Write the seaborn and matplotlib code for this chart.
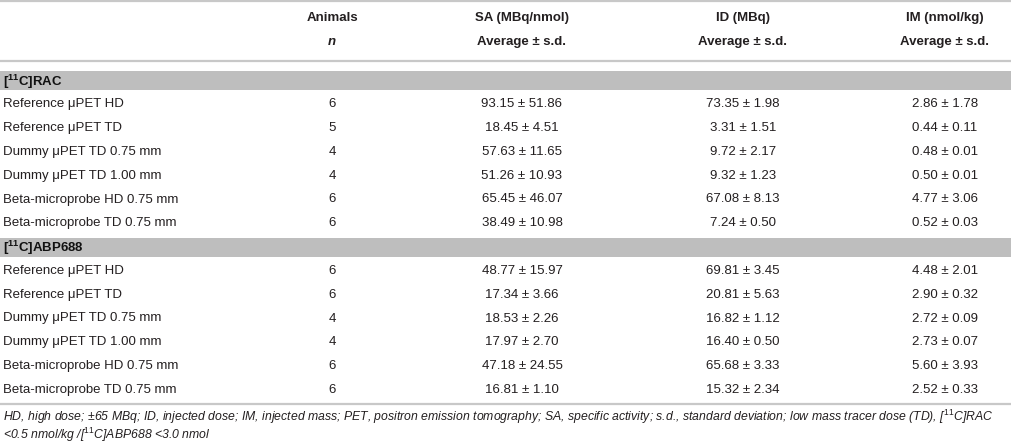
import pandas as pd
import matplotlib.pyplot as plt
import seaborn as sns

# Table content
groups = [r'[$^{\mathbf{11}}$C]RAC', r'[$^{\mathbf{11}}$C]ABP688']
conditions = ['Reference μPET HD', 'Reference μPET TD', 'Dummy μPET TD 0.75 mm',
              'Dummy μPET TD 1.00 mm', 'Beta-microprobe HD 0.75 mm', 'Beta-microprobe TD 0.75 mm']

n_rac = [6, 5, 4, 4, 6, 6]
sa_rac_mean = [93.15, 18.45, 57.63, 51.26, 65.45, 38.49]
sa_rac_sd = [51.86, 4.51, 11.65, 10.93, 46.07, 10.98]
id_rac_mean = [73.35, 3.31, 9.72, 9.32, 67.08, 7.24]
id_rac_sd = [1.98, 1.51, 2.17, 1.23, 8.13, 0.50]
im_rac_mean = [2.86, 0.44, 0.48, 0.50, 4.77, 0.52]
im_rac_sd = [1.78, 0.11, 0.01, 0.01, 3.06, 0.03]

n_abp = [6, 6, 4, 4, 6, 6]
sa_abp_mean = [48.77, 17.34, 18.53, 17.97, 47.18, 16.81]
sa_abp_sd = [15.97, 3.66, 2.26, 2.70, 24.55, 1.10]
id_abp_mean = [69.81, 20.81, 16.82, 16.40, 65.68, 15.32]
id_abp_sd = [3.45, 5.63, 1.12, 0.50, 3.33, 2.34]
im_abp_mean = [4.48, 2.90, 2.72, 2.73, 5.60, 2.52]
im_abp_sd = [2.01, 0.32, 0.09, 0.07, 3.93, 0.33]

col_titles = ['Animals', 'SA (MBq/nmol)', 'ID (MBq)', 'IM (nmol/kg)']
col_sub = ['n', 'Average ± s.d.', 'Average ± s.d.', 'Average ± s.d.']

footnote = ['HD, high dose; ±65 MBq; ID, injected dose; IM, injected mass; PET, positron emission '
            'tomography; SA, specific activity; s.d., standard deviation; low mass tracer dose (TD), '
            r'[$^{11}$C]RAC',
            r'<0.5 nmol/kg /[$^{11}$C]ABP688 <3.0 nmol']

frames = []
for g, n, sm, ss, im_, isd, mm, ms in [
        (groups[0], n_rac, sa_rac_mean, sa_rac_sd, id_rac_mean, id_rac_sd, im_rac_mean, im_rac_sd),
        (groups[1], n_abp, sa_abp_mean, sa_abp_sd, id_abp_mean, id_abp_sd, im_abp_mean, im_abp_sd)]:
    frames.append(pd.DataFrame({'group': g, 'condition': conditions, 'n': n,
                                'sa': sm, 'sa_sd': ss, 'id': im_, 'id_sd': isd,
                                'im': mm, 'im_sd': ms}))
df = pd.concat(frames, ignore_index=True)

sns.set_theme(style='white')
plt.rcParams['font.family'] = ['Liberation Sans', 'DejaVu Sans']
plt.rcParams['mathtext.fontset'] = 'custom'
plt.rcParams['mathtext.rm'] = 'Liberation Sans'
plt.rcParams['mathtext.it'] = 'Liberation Sans:italic'
plt.rcParams['mathtext.bf'] = 'Liberation Sans:bold'

W, H = 1012, 447
fig = plt.figure(figsize=(W / 100, H / 100), dpi=100)
ax = fig.add_axes([0, 0, 1, 1])
ax.set_xlim(0, W)
ax.set_ylim(H, 0)
ax.axis('off')

txt = '#231f20'
rule = '#c8c8c8'
band = '#bebebe'
fs = 9.5
x_label = 3
x_cols = [332, 522, 743, 945]

# header
ax.axhline(1, color=rule, lw=1.6)
for x, t, s in zip(x_cols, col_titles, col_sub):
    ax.text(x, 18, t, ha='center', va='center', fontsize=fs, fontweight='bold', color=txt)
    ax.text(x, 42, s, ha='center', va='center', fontsize=fs, fontweight='bold', color=txt,
            style='italic' if s == 'n' else 'normal')
ax.axhline(61, color=rule, lw=1.6)

# body
top, unit, band_h = 71, 23.8, 19
k = 0
for g in groups:
    y0 = top + unit * k
    ax.axhspan(y0, y0 + band_h, color=band, lw=0)
    ax.text(x_label, y0 + band_h / 2 + 1, g, ha='left', va='center', fontsize=fs,
            fontweight='bold', color='#111111')
    k += 1
    for _, r in df[df['group'] == g].iterrows():
        yc = top + unit * k + band_h / 2
        ax.text(x_label, yc, r['condition'], ha='left', va='center', fontsize=fs, color=txt)
        vals = [f"{r['n']}",
                f"{r['sa']:.2f} ± {r['sa_sd']:.2f}",
                f"{r['id']:.2f} ± {r['id_sd']:.2f}",
                f"{r['im']:.2f} ± {r['im_sd']:.2f}"]
        for x, v in zip(x_cols, vals):
            ax.text(x, yc, v, ha='center', va='center', fontsize=fs, color=txt)
        k += 1

ax.axhline(404, color=rule, lw=1.6)
for i, (line, yf) in enumerate(zip(footnote, [417, 435])):
    ax.text(x_label, yf, line, ha='left', va='center', fontsize=8.8,
            style='italic', color=txt)

fig.savefig('out.png', dpi=100)
